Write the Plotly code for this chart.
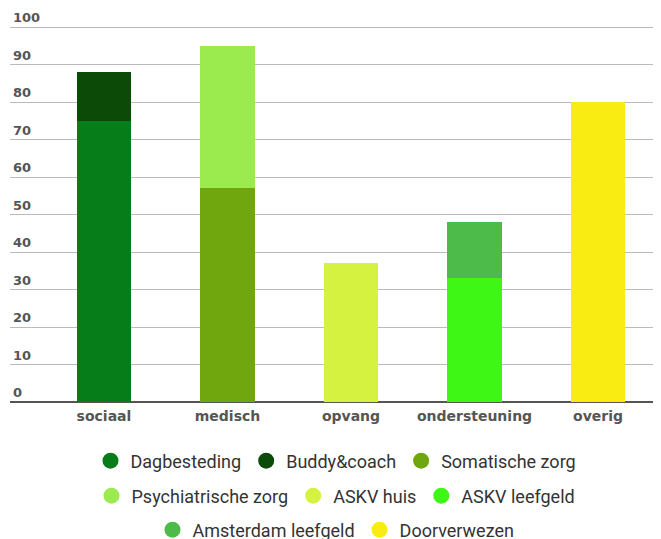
import plotly.graph_objects as go

categories = ["sociaal", "medisch", "opvang", "ondersteuning", "overig"]

series_names = ["Dagbesteding", "Buddy&coach", "Somatische zorg",
                "Psychiatrische zorg", "ASKV huis", "ASKV leefgeld",
                "Amsterdam leefgeld", "Doorverwezen"]

dagbesteding = [75, 0, 0, 0, 0]
buddy_coach = [13, 0, 0, 0, 0]
somatische_zorg = [0, 57, 0, 0, 0]
psychiatrische_zorg = [0, 38, 0, 0, 0]
askv_huis = [0, 0, 37, 0, 0]
askv_leefgeld = [0, 0, 0, 33, 0]
amsterdam_leefgeld = [0, 0, 0, 15, 0]
doorverwezen = [0, 0, 0, 0, 80]

y_ticks = [0, 10, 20, 30, 40, 50, 60, 70, 80, 90, 100]

values = [dagbesteding, buddy_coach, somatische_zorg, psychiatrische_zorg,
          askv_huis, askv_leefgeld, amsterdam_leefgeld, doorverwezen]
colors = ["#077D19", "#0B4B07", "#70A70E", "#9BEB4E",
          "#D6F241", "#3EF715", "#4CBB4A", "#F8EC13"]
legend_of = ["legend", "legend", "legend", "legend2", "legend2", "legend2",
             "legend3", "legend3"]

fig = go.Figure()
for name, vals, col in zip(series_names, values, colors):
    fig.add_trace(go.Bar(x=categories, y=vals, name=name, marker_color=col,
                         marker_line_width=0, width=0.445, showlegend=False,
                         hoverinfo="x+y+name"))
for name, col, lg in zip(series_names, colors, legend_of):
    fig.add_trace(go.Scatter(x=[None], y=[None], mode="markers", name=name,
                             marker=dict(color=col, size=16, symbol="circle"),
                             legend=lg, showlegend=True))

W, H = 653, 531  # page body has an 8px default margin
leg_font = dict(family="Roboto, sans-serif", size=18, color="#333333")
common = dict(orientation="h", xref="container", yref="container",
              x=328 / W, xanchor="center", yanchor="middle",
              traceorder="normal",
              bgcolor="rgba(0,0,0,0)", font=leg_font, itemclick=False)

fig.update_layout(
    width=W, height=H,
    margin=dict(l=2, r=1, t=4, b=137),
    paper_bgcolor="white", plot_bgcolor="white",
    barmode="stack",
    xaxis=dict(range=[-0.761, 4.502], showgrid=False, showline=False,
               ticks="", ticklabelstandoff=4,
               tickfont=dict(family="DejaVu Sans", size=14,
                             color="#555555", weight="bold")),
    yaxis=dict(range=[0, 104], tickvals=y_ticks, showgrid=True,
               gridcolor="#BBBBBB", gridwidth=1,
               zeroline=True, zerolinecolor="#555555", zerolinewidth=2,
               ticklabelposition="inside top",
               ticklabeloverflow="allow",
               tickfont=dict(family="DejaVu Sans", size=13,
                             color="#555555", weight="bold")),
    legend=dict(y=1 - 453 / H, **common),
    legend2=dict(y=1 - 488 / H, **common),
    legend3=dict(y=1 - 522 / H, **common),
)

fig.write_html("out.html")
